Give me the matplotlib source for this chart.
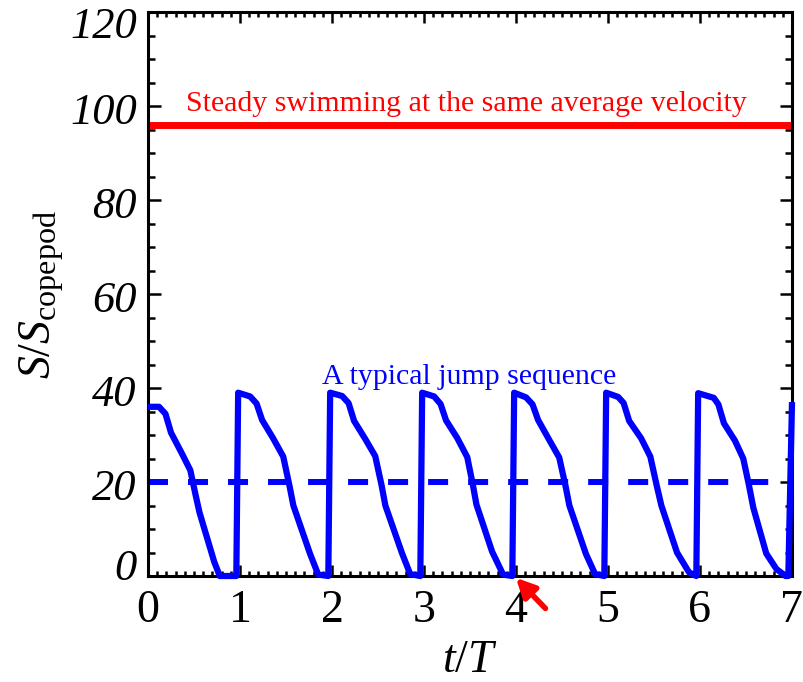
import matplotlib
matplotlib.use("Agg")
import matplotlib.pyplot as plt
from matplotlib.ticker import MultipleLocator
from matplotlib.transforms import ScaledTranslation

# ── Data ─────────────────────────────────────────────────────────────────────
t_jump = [0.00, 0.12, 0.19, 0.25, 0.37, 0.46, 0.52, 0.56, 0.72, 0.78, 0.96,
          0.98, 1.11, 1.18, 1.24, 1.36, 1.47, 1.54, 1.58, 1.76, 1.85, 1.96,
          1.98, 2.11, 2.18, 2.24, 2.36, 2.47, 2.54, 2.58, 2.76, 2.85, 2.96,
          2.98, 3.11, 3.18, 3.24, 3.36, 3.47, 3.53, 3.57, 3.74, 3.86, 3.96,
          3.98, 4.11, 4.18, 4.24, 4.36, 4.47, 4.54, 4.58, 4.76, 4.86, 4.96,
          4.98, 5.11, 5.17, 5.23, 5.36, 5.46, 5.53, 5.58, 5.75, 5.88, 5.96,
          5.98, 6.15, 6.20, 6.26, 6.38, 6.47, 6.53, 6.58, 6.72, 6.83, 6.93, 6.96,
          7.00]
s_jump = [36.0, 36.0, 34.5, 30.5, 26.0, 22.5, 17.0, 13.5, 3.0, 0.0, 0.0,
          39.0, 38.2, 36.7, 33.2, 29.3, 25.4, 19.0, 15.0, 4.8, 0.3, 0.0,
          39.0, 38.3, 36.8, 33.0, 29.2, 25.5, 19.2, 15.0, 4.9, 0.4, 0.0,
          39.0, 38.2, 36.6, 33.1, 29.4, 25.3, 19.5, 15.2, 5.2, 0.3, 0.0,
          39.0, 38.0, 36.5, 33.2, 29.0, 25.2, 19.0, 15.0, 4.7, 0.4, 0.0,
          39.0, 38.1, 36.8, 33.0, 29.3, 25.4, 19.2, 15.0, 5.0, 0.8, 0.0,
          38.9, 37.9, 36.5, 32.5, 28.8, 25.0, 19.5, 14.5, 4.8, 1.5, 0.0, 0.0,
          37.0]
mean_jump = 20.0
steady = 96.0

XMAX, YMAX = 7, 120
RED, BLUE = "#FF0000", "#0000FF"

plt.rcParams["font.family"] = ["Liberation Serif", "DejaVu Serif"]
plt.rcParams["mathtext.fontset"] = "custom"
plt.rcParams["mathtext.rm"] = "Liberation Serif"
plt.rcParams["mathtext.it"] = "Liberation Serif:italic"

fig = plt.figure(figsize=(8.04, 6.82), dpi=100)
ax = fig.add_axes([148 / 804, 106 / 682, 644 / 804, 564 / 682])

ax.plot(t_jump, s_jump, color=BLUE, lw=4.5, clip_on=False, zorder=3,
        solid_joinstyle="round", solid_capstyle="butt")
ax.plot([0, XMAX], [mean_jump, mean_jump], color=BLUE, lw=4.3,
        dashes=(3.35, 3.35), solid_capstyle="butt", zorder=2)
ax.plot([0, XMAX], [steady, steady], color=RED, lw=5, zorder=2,
        solid_capstyle="butt")

ax.text(3.46, 100.5, "Steady swimming at the same average velocity",
        color=RED, fontsize=21.5, ha="center", va="center")
ax.text(3.49, 42.3, "A typical jump sequence",
        color=BLUE, fontsize=21.5, ha="center", va="center")

# red arrow pointing at the jump near t/T = 4
ax.annotate("", xy=(4.0, -0.4), xytext=(4.32, -6.9),
            arrowprops=dict(arrowstyle="-|>", color=RED, lw=4,
                            mutation_scale=28, shrinkA=0, shrinkB=0),
            annotation_clip=False)

ax.set_xlim(0, XMAX)
ax.set_ylim(0, YMAX)
ax.xaxis.set_major_locator(MultipleLocator(1))
ax.xaxis.set_minor_locator(MultipleLocator(0.1))
ax.yaxis.set_major_locator(MultipleLocator(20))
ax.yaxis.set_minor_locator(MultipleLocator(5))

for sp in ax.spines.values():
    sp.set_linewidth(2.2)
ax.tick_params(which="both", direction="in", top=True, right=True, width=1.8)
ax.tick_params(axis="x", which="major", length=8, pad=10, labelsize=33)
ax.tick_params(axis="x", which="minor", length=3.5)
ax.tick_params(axis="y", which="major", length=9, pad=8, labelsize=32)
ax.tick_params(axis="y", which="minor", length=5)

ax.set_xlabel(r"$t/T$", fontsize=33, labelpad=5)
ax.set_ylabel(r"$S/S_{\mathrm{copepod}}$", fontsize=33, labelpad=3)

# y labels: italic, end labels nudged inside like the original (shift in px)
fig.canvas.draw()
for lab in ax.get_yticklabels():
    lab.set_fontstyle("italic")
    yv = lab.get_position()[1]
    dy = -2
    if abs(yv) < 1e-6:
        dy = 12
    elif abs(yv - YMAX) < 1e-6:
        dy = -11
    lab.set_transform(lab.get_transform() +
                      ScaledTranslation(0, dy / fig.dpi, fig.dpi_scale_trans))

fig.savefig("out.png", dpi=100)
